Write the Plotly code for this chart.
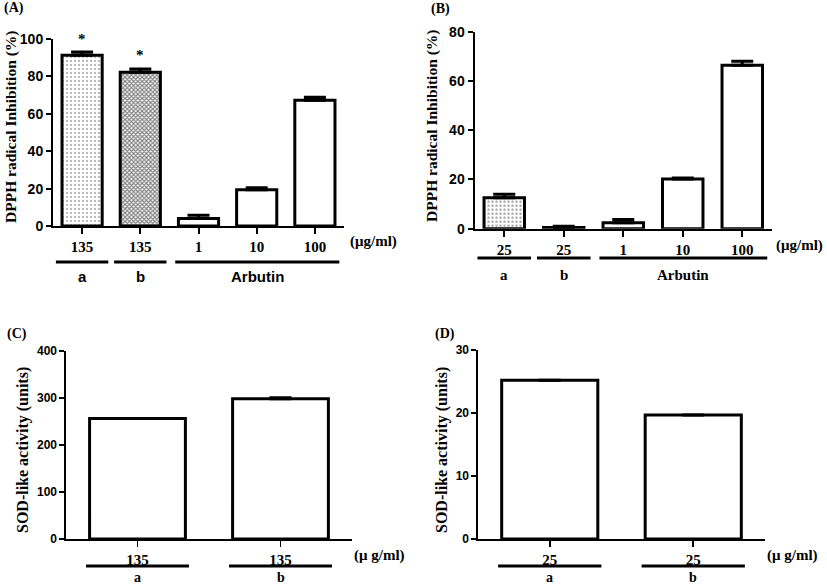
import plotly.graph_objects as go

W, H = 827, 585
SERIF = "Liberation Serif"
SANS = "Liberation Sans"

# ---- data ----
A_ticks = ["135", "135", "1", "10", "100"]
A_vals = [91.3, 82.2, 4.0, 19.4, 67.3]
A_err = [1.7, 1.8, 1.7, 1.0, 1.5]

B_ticks = ["25", "25", "1", "10", "100"]
B_vals = [12.6, 0.5, 2.4, 20.2, 66.4]
B_err = [1.4, 0.5, 1.3, 0.4, 1.6]

C_ticks = ["135", "135"]
C_vals = [256, 298]
C_err = [0, 2]

D_ticks = ["25", "25"]
D_vals = [25.2, 19.7]
D_err = [0, 0]

groups5 = [("a", -0.45, 0.45), ("b", 0.55, 1.45), ("Arbutin", 1.6, 4.42)]
groups2 = [("a", -0.36, 0.36), ("b", 0.64, 1.36)]


def px(x):
    return x / W


def py(y):
    return 1 - y / H


fig = go.Figure()

pat_A = dict(shape=[".", "x", "", "", ""], size=[4, 3, 8, 8, 8],
             solidity=[0.22, 0.6, 0.2, 0.2, 0.2],
             fgcolor=["#555555", "#000000", "black", "black", "black"], bgcolor="white", fillmode="overlay")
pat_B = dict(shape=[".", "", "", "", ""], size=[4, 8, 8, 8, 8],
             solidity=[0.28, 0.2, 0.2, 0.2, 0.2],
             fgcolor=["#444444", "black", "black", "black", "black"], bgcolor="white", fillmode="overlay")


def bars(vals, err, xa, ya, width, pattern=None):
    m = dict(color="white", line=dict(color="black", width=3))
    if pattern:
        m["pattern"] = pattern
    return go.Bar(x=list(range(len(vals))), y=vals, width=width, marker=m,
                  error_y=dict(type="data", symmetric=False, array=err,
                               arrayminus=[0] * len(vals), color="black",
                               thickness=3, width=11, visible=True),
                  xaxis=xa, yaxis=ya, showlegend=False, hoverinfo="skip")


fig.add_trace(bars(A_vals, A_err, "x", "y", 0.69, pat_A))
fig.add_trace(bars(B_vals, B_err, "x2", "y2", 0.68, pat_B))
fig.add_trace(bars(C_vals, C_err, "x3", "y3", 0.67))
fig.add_trace(bars(D_vals, D_err, "x4", "y4", 0.67))

# panel geometry (pixels)
panels = [
    (53, 344, 226, 39, 100, 20, 5, A_ticks, 14, 2),
    (474.5, 772, 228.7, 31.7, 80, 20, 5, B_ticks, 14, 2),
    (66, 352, 539, 350.7, 400, 100, 2, C_ticks, 12, 1.6),
    (478, 765, 539, 350, 30, 10, 2, D_ticks, 12, 1.6),
]

for i, (x0, x1, y0, y1, ymax, dt, n, ticks, fs, lw) in enumerate(panels):
    sfx = "" if i == 0 else str(i + 1)
    fig.layout["xaxis" + sfx] = dict(
        domain=[px(x0), px(x1)], range=[-0.5, n - 0.5], anchor="y" + sfx,
        showline=True, linecolor="black", linewidth=lw, ticks="outside",
        ticklen=6, tickwidth=lw, tickcolor="black", tickvals=list(range(n)),
        ticktext=ticks, tickfont=dict(family=SERIF, size=15, color="black", weight="bold"),
        showgrid=False, zeroline=False, fixedrange=True, automargin=False)
    fig.layout["yaxis" + sfx] = dict(
        domain=[py(y0), py(y1)], range=[0, ymax], anchor="x" + sfx,
        showline=True, linecolor="black", linewidth=lw, ticks="outside",
        ticklen=5, tickwidth=lw, tickcolor="black", dtick=dt, tick0=0,
        tickfont=dict(family=SANS, size=fs, color="black", weight="bold"),
        showgrid=False, zeroline=False, fixedrange=True, automargin=False)

ann = []
shapes = []


def text(x, y, s, size=14, family=SERIF, xref="paper", angle=0):
    ann.append(dict(x=x, y=y, xref=xref, yref="paper", text=s, showarrow=False,
                    textangle=angle, xanchor="center", yanchor="middle",
                    font=dict(family=family, size=size, color="black", weight="bold")))


# panel labels
text(px(14), py(8), "(A)", 14)
text(px(440), py(9), "(B)", 14)
text(px(17), py(334), "(C)", 14)
text(px(445), py(334), "(D)", 14)

# y titles
text(px(11), py(127), "DPPH radical Inhibition (%)", 15.5, angle=-90)
text(px(432), py(126), "DPPH radical Inhibition (%)", 15.5, angle=-90)
text(px(23), py(450), "SOD-like activity (units)", 16, angle=-90)
text(px(442), py(450), "SOD-like activity (units)", 16, angle=-90)

# units
text(px(373), py(242), "(μg/ml)", 15)
text(px(799), py(245), "(μg/ml)", 15)
text(px(379), py(555), "(μ g/ml)", 15)
text(px(792), py(555), "(μ g/ml)", 15)

# asterisks
text(0, py(39), "*", 15, xref="x")
text(1, py(55), "*", 15, xref="x")

# group lines and labels
group_specs = [("x", groups5, 262, 276, SANS, 15),
               ("x2", groups5, 258, 275, SERIF, 15),
               ("x3", groups2, 566, 577, SERIF, 14),
               ("x4", groups2, 566, 577, SERIF, 14)]
for xa, grp, ly, ty, fam, fsz in group_specs:
    for lab, g0, g1 in grp:
        shapes.append(dict(type="line", xref=xa, yref="paper", x0=g0, x1=g1,
                           y0=py(ly), y1=py(ly), line=dict(color="black", width=3)))
        text((g0 + g1) / 2, py(ty), lab, fsz, family=fam, xref=xa)

fig.update_layout(width=W, height=H, margin=dict(l=0, r=0, t=0, b=0),
                  paper_bgcolor="white", plot_bgcolor="white",
                  annotations=ann, shapes=shapes, bargap=0, hovermode=False)

fig.write_html("out.html", config={"displayModeBar": False, "staticPlot": True},
               post_script="document.body.style.margin='0';document.body.style.overflow='hidden';")
